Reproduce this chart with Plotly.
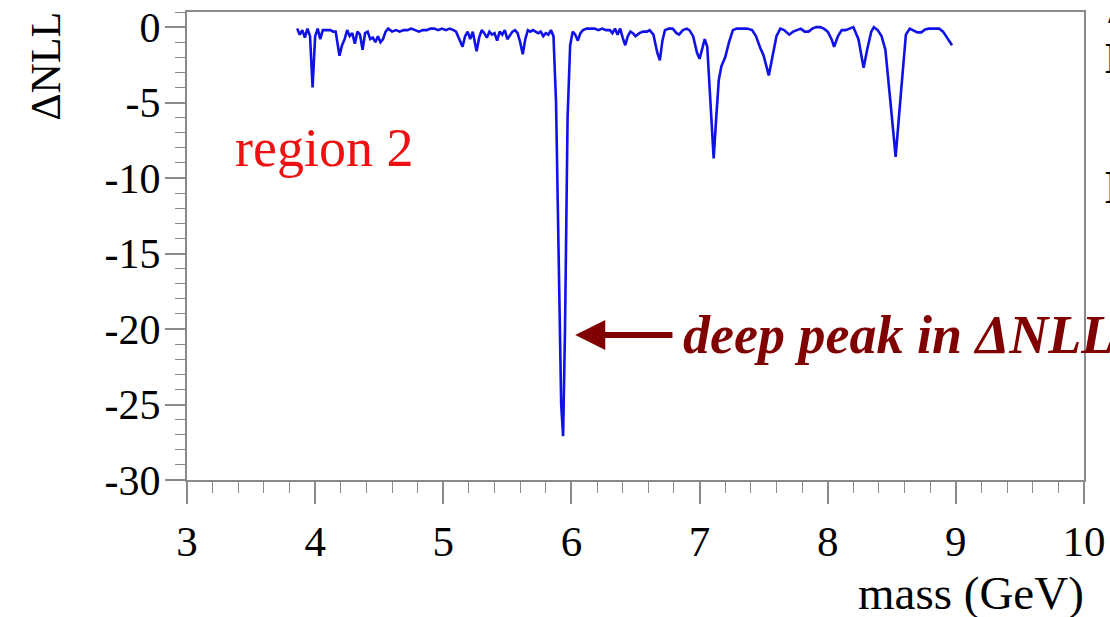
import plotly.graph_objects as go

mass = [3.86, 3.88, 3.90, 3.92, 3.94, 3.96, 3.98, 4.00, 4.02, 4.04, 4.06, 4.08, 4.10, 4.12, 4.14, 4.16,
        4.19, 4.21, 4.23, 4.25, 4.27, 4.29, 4.31, 4.33, 4.35, 4.37, 4.39, 4.41, 4.43, 4.45, 4.47, 4.49,
        4.51, 4.53, 4.55, 4.57, 4.60, 4.63, 4.66, 4.69, 4.72, 4.75, 4.78, 4.81, 4.84, 4.87, 4.90, 4.93,
        4.96, 4.99, 5.02, 5.05, 5.08, 5.10, 5.12, 5.15, 5.17, 5.19, 5.21, 5.23, 5.26, 5.28, 5.30, 5.32,
        5.34, 5.36, 5.38, 5.40, 5.42, 5.44, 5.46, 5.48, 5.50, 5.52, 5.54, 5.56, 5.58, 5.60, 5.62, 5.64,
        5.66, 5.68, 5.70, 5.72, 5.74, 5.76, 5.78, 5.80, 5.82, 5.84, 5.86, 5.88, 5.90, 5.92, 5.935, 5.95,
        5.97, 5.99, 6.01, 6.03, 6.05, 6.07, 6.09, 6.12, 6.15, 6.18, 6.21, 6.24, 6.27, 6.30, 6.32, 6.34,
        6.36, 6.38, 6.40, 6.42, 6.44, 6.46, 6.48, 6.50, 6.53, 6.56, 6.59, 6.61, 6.64, 6.67, 6.69, 6.71,
        6.73, 6.76, 6.79, 6.82, 6.84, 6.87, 6.90, 6.92, 6.95, 6.98, 7.00, 7.02, 7.04, 7.06, 7.08, 7.11,
        7.13, 7.15, 7.17, 7.20, 7.23, 7.26, 7.29, 7.33, 7.37, 7.41, 7.44, 7.47, 7.50, 7.54, 7.57, 7.60,
        7.63, 7.66, 7.70, 7.73, 7.76, 7.79, 7.82, 7.85, 7.88, 7.91, 7.94, 7.97, 8.00, 8.03, 8.05, 8.08,
        8.11, 8.14, 8.17, 8.20, 8.24, 8.28, 8.31, 8.34, 8.36, 8.39, 8.42, 8.45, 8.49, 8.53, 8.57, 8.61,
        8.64, 8.67, 8.70, 8.73, 8.76, 8.79, 8.83, 8.87, 8.90, 8.93, 8.97]

dnll = [-0.1, -0.5, -0.2, -0.7, -0.1, -0.6, -4.0, -0.6, -0.1, -0.8, -0.2, -0.2, -0.2, -0.2, -0.3, -0.3,
        -1.9, -1.2, -0.8, -0.2, -0.6, -0.4, -1.1, -0.3, -0.5, -1.5, -0.4, -0.3, -0.8, -0.7, -1.0, -0.6,
        -1.0, -0.8, -0.3, -0.1, -0.3, -0.2, -0.3, -0.2, -0.2, -0.1, -0.2, -0.3, -0.2, -0.2, -0.1, -0.1,
        -0.2, -0.1, -0.2, -0.1, -0.2, -0.3, -0.7, -1.3, -0.6, -0.3, -0.8, -0.3, -1.6, -0.7, -0.2, -0.4,
        -0.7, -0.3, -0.5, -0.4, -0.9, -0.3, -0.5, -0.2, -0.8, -0.5, -0.3, -0.2, -0.4, -1.0, -1.8, -0.8,
        -0.2, -0.3, -0.2, -0.3, -0.4, -0.3, -0.6, -0.4, -0.5, -0.2, -0.6, -5.0, -16.0, -25.0, -27.1, -20.0,
        -6.0, -1.2, -0.3, -0.5, -0.9, -0.4, -0.2, -0.1, -0.1, -0.1, -0.2, -0.1, -0.2, -0.2, -0.4, -0.1,
        -0.5, -0.1, -0.7, -1.2, -0.6, -0.3, -0.4, -0.6, -0.4, -0.3, -0.3, -0.2, -0.5, -1.7, -2.2, -0.9,
        -0.2, -0.1, -0.1, -0.4, -0.5, -0.2, -0.1, -0.2, -0.6, -1.7, -2.1, -1.4, -0.8, -1.3, -4.5, -8.7,
        -6.0, -3.5, -2.6, -2.0, -1.0, -0.2, -0.1, -0.1, -0.1, -0.2, -0.6, -1.3, -1.9, -3.2, -1.8, -0.6,
        -0.1, -0.2, -0.5, -0.3, -0.2, -0.1, -0.3, -0.3, -0.1, 0.0, 0.0, -0.1, -0.3, -0.8, -1.3, -0.6,
        -0.2, -0.2, -0.1, 0.0, -0.8, -2.7, -1.4, -0.3, 0.0, -0.2, -0.6, -1.5, -5.0, -8.6, -4.5, -0.5,
        -0.1, -0.2, -0.35, -0.35, -0.15, -0.1, -0.1, -0.1, -0.3, -0.7, -1.2]

x_ticks = [3, 4, 5, 6, 7, 8, 9, 10]
y_ticks = [0, -5, -10, -15, -20, -25, -30]

SERIF = "Liberation Serif, Times New Roman, serif"
AXIS_GREY = "#8a8a8a"

fig = go.Figure()
fig.add_trace(go.Scatter(x=mass, y=dnll, mode="lines",
                         line=dict(color="#1010e8", width=2.6), showlegend=False,
                         hoverinfo="skip"))

fig.update_layout(
    width=1110, height=617,
    margin=dict(l=187, r=26, t=12, b=137, autoexpand=False),
    paper_bgcolor="white", plot_bgcolor="white",
    font=dict(family=SERIF, color="black"),
    xaxis=dict(range=[3, 10], tickvals=x_ticks, ticktext=[str(v) for v in x_ticks],
               automargin=False,
               showgrid=False, zeroline=False, showline=True, linecolor=AXIS_GREY, linewidth=2,
               mirror=True, ticks="outside", ticklen=22, tickwidth=1.5, tickcolor=AXIS_GREY,
               tickfont=dict(family=SERIF, size=43, color="black"),
               minor=dict(dtick=0.2, ticks="outside", ticklen=11, tickwidth=1.2, tickcolor=AXIS_GREY)),
    yaxis=dict(range=[-30, 1], tickvals=y_ticks, ticktext=[str(v) for v in y_ticks],
               automargin=False, ticklabelstandoff=-4,
               showgrid=False, zeroline=False, showline=True, linecolor=AXIS_GREY, linewidth=2,
               mirror=True, ticks="outside", ticklen=20, tickwidth=1.5, tickcolor=AXIS_GREY,
               tickfont=dict(family=SERIF, size=42, color="black"),
               minor=dict(dtick=1, ticks="outside", ticklen=10, tickwidth=1.2, tickcolor=AXIS_GREY)),
)

# axis titles
fig.add_annotation(text="ΔNLL", xref="paper", yref="paper", x=0, y=1, xshift=-142, yshift=2,
                   xanchor="center", yanchor="top", textangle=-90, showarrow=False,
                   font=dict(family=SERIF, size=42, color="black"))
fig.add_annotation(text="mass (GeV)", xref="paper", yref="paper", x=1, y=0, xshift=2, yshift=-85,
                   xanchor="right", yanchor="top", showarrow=False,
                   font=dict(family=SERIF, size=47, color="black"))

# in-plot labels
fig.add_annotation(text="region 2", xref="paper", yref="paper", x=0, y=1, xshift=46, yshift=-104,
                   xanchor="left", yanchor="top", showarrow=False,
                   font=dict(family=SERIF, size=54, color="#ee1111"))
fig.add_annotation(text="", x=6.03, y=-20.4, ax=6.8, ay=-20.4, axref="x", ayref="y",
                   showarrow=True, arrowhead=2, arrowsize=1.0, arrowwidth=6, arrowcolor="#800000")
fig.add_annotation(text="<b><i>deep peak in ΔNLL</i></b>", x=6.9, y=-20.4, xanchor="left",
                   yanchor="middle", showarrow=False, xshift=-6,
                   font=dict(family=SERIF, size=54, color="#800000"))

# cut-off text at the right page edge
fig.add_annotation(text="<b>Δ</b>", xref="paper", yref="paper", x=1, y=1, xshift=22, yshift=14,
                   xanchor="left", yanchor="top", showarrow=False,
                   font=dict(family=SERIF, size=26, color="black"))
fig.add_annotation(text="<b>B</b>", xref="paper", yref="paper", x=1, y=1, xshift=19, yshift=-20,
                   xanchor="left", yanchor="top", showarrow=False,
                   font=dict(family=SERIF, size=44, color="black"))
fig.add_annotation(text="<b>B</b>", xref="paper", yref="paper", x=1, y=1, xshift=19, yshift=-148,
                   xanchor="left", yanchor="top", showarrow=False,
                   font=dict(family=SERIF, size=46, color="black"))

fig.write_html("out.html")
